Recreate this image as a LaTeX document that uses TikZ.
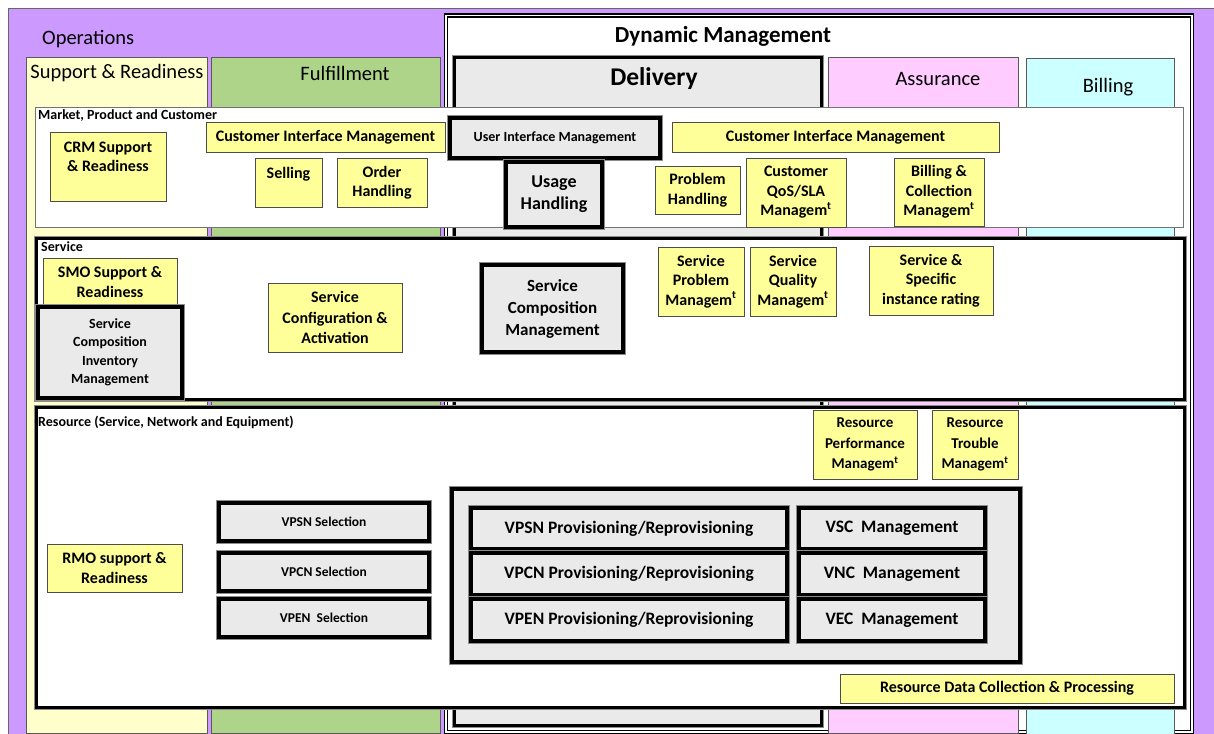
\documentclass[tikz,border=0pt]{standalone}
\usepackage{fontspec}
\setmainfont{Carlito}
\definecolor{purp}{RGB}{204,153,255}
\definecolor{suppc}{RGB}{255,255,204}
\definecolor{fulc}{RGB}{174,212,138}
\definecolor{pinkc}{RGB}{255,204,255}
\definecolor{cyanc}{RGB}{204,255,255}
\definecolor{yboxc}{RGB}{255,255,153}
\definecolor{gtex}{RGB}{234,234,234}
\newcommand{\fs}[2]{\fontsize{#1}{#2}\selectfont}
\tikzset{
  colbox/.style={draw=black!65, line width=0.8pt, inner sep=0pt},
  ybox/.style={draw=black!70, line width=0.8pt, fill=yboxc, inner sep=0pt, align=center,
    font=\bfseries\fs{16}{19.5}},
  gbox/.style={draw=black, line width=3.2pt, fill=gtex, inner sep=0pt, align=center,
    preaction={draw=black!45, line width=5.2pt},
    font=\bfseries\fs{17.5}{21}},
  rowthin/.style={draw=black!55, line width=1pt, fill=white, inner sep=0pt},
  rowthick/.style={draw=black, line width=3pt, fill=white, inner sep=0pt,
    preaction={draw=black!45, line width=5pt}},
  rowlab/.style={anchor=west, inner sep=0pt, font=\bfseries\fs{14}{16}},
  coltitle/.style={inner sep=0pt, font=\fs{20.5}{22}},
}
\begin{document}
\begin{tikzpicture}[x=1pt,y=-1pt]
\useasboundingbox (0,0) rectangle (1214,733);
% background
\node[draw=black!60, line width=1pt, fill=purp, minimum width=1207pt, minimum height=726pt, inner sep=0pt, anchor=north west] (ops) at (8,8) {};
\node[coltitle, anchor=west] (opsT) at (42,39) {Operations};
% columns
\node[colbox, fill=suppc, minimum width=181pt, minimum height=676pt, anchor=north west] (supcol) at (26,57) {};
\node[colbox, fill=fulc, minimum width=229pt, minimum height=676pt, anchor=north west] (fulcol) at (211,57) {};
\node[coltitle] (supT) at (117,73) {Support \& Readiness};
\node[coltitle] (fulT) at (345,73) {Fulfillment};
% dynamic management
\node[draw=black, line width=1.6pt, double=white, double distance=1.4pt, fill=white, minimum width=746pt, minimum height=716pt, inner sep=0pt, anchor=north west] (dyn) at (445,15) {};
\node[inner sep=0pt, font=\bfseries\fs{23}{25}] (dynT) at (723,36) {Dynamic Management};
\node[gbox, minimum width=367pt, minimum height=668pt, anchor=north west] (delcol) at (453,56) {};
\node[inner sep=0pt, font=\bfseries\fs{25.5}{28}] (delT) at (654,79) {Delivery};
\node[colbox, fill=pinkc, minimum width=190pt, minimum height=676pt, anchor=north west] (asscol) at (828,57) {};
\node[coltitle] (assT) at (938,79) {Assurance};
\node[colbox, fill=cyanc, minimum width=148pt, minimum height=676pt, anchor=north west] (bilcol) at (1026,58) {};
\node[coltitle] (bilT) at (1108,87) {Billing};
% rows
\node[rowthin, minimum width=1148pt, minimum height=120pt, anchor=north west] (mrow) at (35,107) {};
\node[rowthick, minimum width=1148pt, minimum height=161pt, anchor=north west] (srow) at (35,237) {};
\node[rowthick, minimum width=1148pt, minimum height=300pt, anchor=north west] (rrow) at (35,406) {};
\node[rowlab] (mrowT) at (38,115.5) {Market, Product and Customer};
\node[rowlab] (srowT) at (41,246.5) {Service};
\node[rowlab] (rrowT) at (38,422.5) {Resource (Service, Network and Equipment)};
% market row
\node[ybox, minimum width=116pt, minimum height=69pt] (crm) at (108,166.5) {CRM Support\\\& Readiness\\\mbox{}};
\node[ybox, minimum width=239pt, minimum height=30pt] (cim1) at (325.5,137) {Customer Interface Management};
\node[ybox, minimum width=67pt, minimum height=49pt] (sell) at (288.5,182.5) {Selling\\\mbox{}};
\node[ybox, minimum width=90pt, minimum height=49pt] (ord) at (382,182.5) {Order\\Handling};
\node[gbox, minimum width=210pt, minimum height=40pt, font=\bfseries\fs{14}{16}] (uim) at (555,138) {User Interface Management};
\node[gbox, minimum width=96pt, minimum height=65pt, font=\bfseries\fs{18}{22}] (usage) at (554,194.5) {Usage\\Handling};
\node[ybox, minimum width=327pt, minimum height=30pt] (cim2) at (835.5,137) {Customer Interface Management};
\node[ybox, minimum width=85pt, minimum height=48pt] (prob) at (697.5,190) {Problem\\Handling};
\node[ybox, minimum width=100pt, minimum height=69pt] (qos) at (796,192.5) {Customer\\QoS/SLA\\Managem\textsuperscript{t}};
\node[ybox, minimum width=90pt, minimum height=68pt] (bill) at (939,192) {Billing \&\\Collection\\Managem\textsuperscript{t}};
% service row
\node[ybox, minimum width=134pt, minimum height=48pt] (smo) at (110,282) {SMO Support \&\\Readiness};
\node[gbox, minimum width=144pt, minimum height=91pt, font=\bfseries\fs{14}{18.5}] (scim) at (110,352.5) {Service\\Composition\\Inventory\\Management};
\node[ybox, minimum width=134pt, minimum height=69pt, font=\bfseries\fs{16}{20.5}] (scfg) at (335,317.5) {Service\\Configuration \&\\Activation};
\node[gbox, minimum width=141pt, minimum height=87pt, font=\bfseries\fs{17}{22}] (scm) at (552.5,308.5) {Service\\Composition\\Management};
\node[ybox, minimum width=86pt, minimum height=69pt] (sprob) at (701,281.5) {Service\\Problem\\Managem\textsuperscript{t}};
\node[ybox, minimum width=86pt, minimum height=69pt] (squal) at (793,281.5) {Service\\Quality\\Managem\textsuperscript{t}};
\node[ybox, minimum width=124pt, minimum height=69pt] (srate) at (931,280.5) {Service \&\\Specific\\instance rating};
% resource row
\node[ybox, minimum width=104pt, minimum height=69pt, font=\bfseries\fs{15}{20.5}] (rperf) at (865,444.5) {Resource\\Performance\\Managem\textsuperscript{t}};
\node[ybox, minimum width=86pt, minimum height=69pt, font=\bfseries\fs{15}{20.5}] (rtrbl) at (975,444.5) {Resource\\Trouble\\Managem\textsuperscript{t}};
\node[ybox, minimum width=135pt, minimum height=48pt] (rmo) at (114.5,568) {RMO support \&\\Readiness};
\node[gbox, minimum width=210pt, minimum height=38pt, font=\bfseries\fs{13.5}{15}] (vpsnsel) at (324,522) {VPSN Selection};
\node[gbox, minimum width=210pt, minimum height=38pt, font=\bfseries\fs{13.5}{15}] (vpcnsel) at (324,572) {VPCN Selection};
\node[gbox, minimum width=210pt, minimum height=38pt, font=\bfseries\fs{13.5}{15}] (vpensel) at (324,618) {VPEN\ \ Selection};
\node[gbox, minimum width=568pt, minimum height=173pt] (cont) at (736,575.5) {};
\node[gbox, minimum width=316pt, minimum height=41pt] (vpsnprov) at (629,528.5) {VPSN Provisioning/Reprovisioning};
\node[gbox, minimum width=316pt, minimum height=42pt] (vpcnprov) at (629,574) {VPCN Provisioning/Reprovisioning};
\node[gbox, minimum width=316pt, minimum height=42pt] (vpenprov) at (629,620) {VPEN Provisioning/Reprovisioning};
\node[gbox, minimum width=186pt, minimum height=41pt] (vsc) at (892,528.5) {VSC\ \ Management};
\node[gbox, minimum width=186pt, minimum height=42pt] (vnc) at (892,574) {VNC\ \ Management};
\node[gbox, minimum width=186pt, minimum height=42pt] (vec) at (892,620) {VEC\ \ Management};
\node[ybox, minimum width=334pt, minimum height=29pt, font=\bfseries\fs{16}{18}] (rdc) at (1007,688.5) {Resource Data Collection \& Processing};
\end{tikzpicture}
\end{document}
